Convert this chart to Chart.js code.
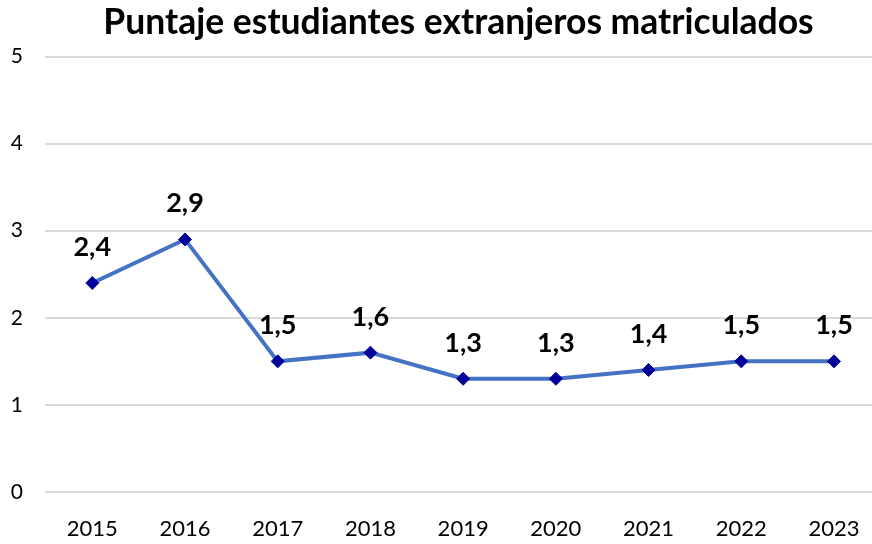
<!DOCTYPE html>
<html>
<head>
<meta charset="utf-8">
<script src="https://cdn.jsdelivr.net/npm/chart.js@4"></script>
<style>
  html, body { margin: 0; padding: 0; background: #fff; overflow: hidden; }
  canvas { display: block; }
</style>
</head>
<body>
<canvas id="chart-line" width="872" height="544"></canvas>
<script>
// chart data
const years = [2015, 2016, 2017, 2018, 2019, 2020, 2021, 2022, 2023];
const scores = [2.4, 2.9, 1.5, 1.6, 1.3, 1.3, 1.4, 1.5, 1.5];
const yTicks = [0, 1, 2, 3, 4, 5];
const titleText = 'Puntaje estudiantes extranjeros matriculados';

const FONT = 'Lato, "Liberation Sans", sans-serif';

// draw the value above each point, comma as decimal separator
const valueLabels = {
  id: 'valueLabels',
  afterDatasetsDraw(chart) {
    const ctx = chart.ctx;
    const meta = chart.getDatasetMeta(0);
    ctx.save();
    ctx.font = 'bold 27px ' + FONT;
    ctx.fillStyle = '#000';
    ctx.textAlign = 'center';
    ctx.textBaseline = 'alphabetic';
    meta.data.forEach((pt, i) => {
      const txt = scores[i].toFixed(1).replace('.', ',');
      ctx.fillText(txt, pt.x, pt.y - 27);
    });
    ctx.restore();
  }
};

const ctx = document.getElementById('chart-line').getContext('2d');
const chart = new Chart(ctx, {
  type: 'line',
  data: {
    datasets: [{
      label: 'Puntaje',
      data: years.map((y, i) => ({ x: y, y: scores[i] })),
      borderColor: '#4472C4',
      borderWidth: 4,
      pointStyle: 'rectRot',
      pointRadius: 6.5,
      pointBackgroundColor: '#000099',
      pointBorderColor: '#000099',
      pointBorderWidth: 1,
      tension: 0
    }]
  },
  plugins: [valueLabels],
  options: {
    responsive: false,
    animation: false,
    devicePixelRatio: 1,
    layout: { padding: 0, autoPadding: false },
    plugins: {
      legend: { display: false },
      tooltip: { enabled: false },
      title: {
        display: true,
        fullSize: false,
        text: titleText,
        color: '#000',
        font: { family: FONT, size: 35.5, weight: 'bold', lineHeight: 1.0 },
        padding: { top: 5, bottom: 16 }
      }
    },
    scales: {
      x: {
        type: 'linear',
        min: 2014.49,
        max: 2023.41,
        grid: { display: false, drawTicks: false },
        border: { display: false },
        afterBuildTicks(axis) {
          axis.ticks = years.map(v => ({ value: v }));
        },
        afterFit(axis) {
          axis.height = 52;
          axis.paddingLeft = 0;
          axis.paddingRight = 0;
        },
        ticks: {
          color: '#000',
          font: { family: FONT, size: 22 },
          padding: 24,
          callback: v => String(v)
        }
      },
      y: {
        min: 0,
        max: 5,
        afterBuildTicks(axis) {
          axis.ticks = yTicks.map(v => ({ value: v }));
        },
        afterFit(axis) { axis.width = 45; },
        grid: { color: '#d9d9d9', lineWidth: 2, drawTicks: false },
        border: { display: false },
        ticks: {
          color: '#000',
          font: { family: FONT, size: 21 },
          padding: 22
        }
      }
    }
  }
});
</script>
</body>
</html>
